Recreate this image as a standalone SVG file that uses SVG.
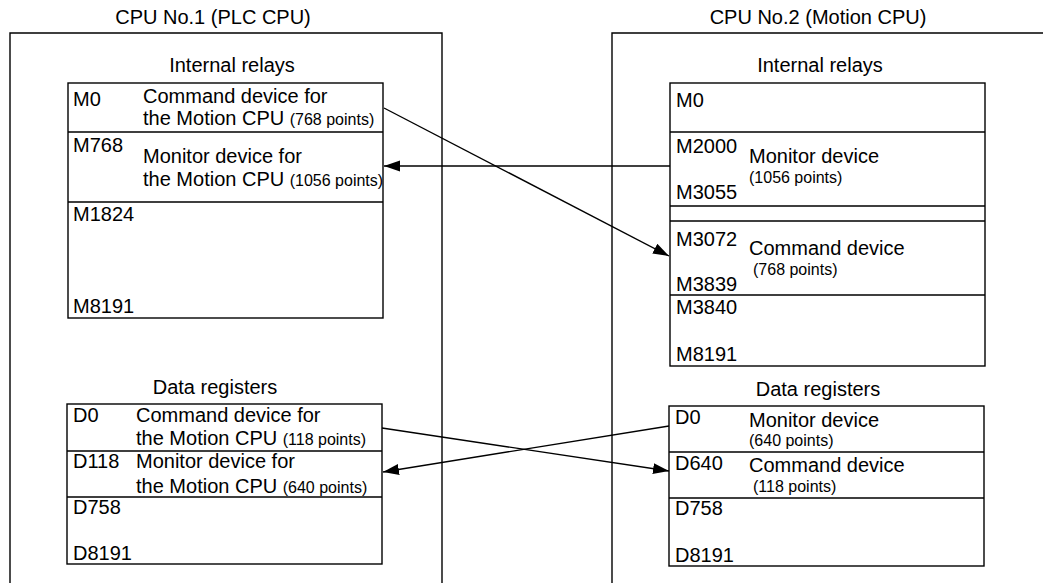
<svg xmlns="http://www.w3.org/2000/svg" width="1043" height="583" viewBox="0 0 1043 583">
<style>
text{font-family:"Liberation Sans",Arial,sans-serif;fill:#000}
.t{font-size:20px}
.s{font-size:16px}
.c{text-anchor:middle}
.b{fill:#fff;stroke:#000;stroke-width:1.4}
.l{stroke:#000;stroke-width:1.4;fill:none}
.a{stroke:#000;stroke-width:1.4;fill:none;marker-end:url(#ah)}
</style>
<defs>
<marker id="ah" markerWidth="18" markerHeight="12" refX="16" refY="5.5" orient="auto" markerUnits="userSpaceOnUse">
<path d="M0,0 L16,5.5 L0,11 Z" fill="#000"/>
</marker>
</defs>
<rect width="1043" height="583" fill="#fff"/>

<g id="cpu1">
<text class="t c" x="213" y="24">CPU No.1 (PLC CPU)</text>
<path class="l" d="M10,590 V33 H442 V590"/>
</g>
<g id="cpu2">
<text class="t c" x="818" y="24">CPU No.2 (Motion CPU)</text>
<path class="l" d="M612,590 V33 H1050"/>
</g>

<g id="cpu1-relays">
<text class="t c" x="232" y="72">Internal relays</text>
<rect class="b" x="68" y="83" width="315" height="235"/>
<path class="l" d="M68,132 H383 M68,202 H383"/>
<text class="t" x="73" y="106">M0</text>
<text class="t" x="143" y="103">Command device for</text>
<text class="t" x="143" y="125">the Motion CPU <tspan class="s">(768 points)</tspan></text>
<text class="t" x="73" y="152">M768</text>
<text class="t" x="143" y="163">Monitor device for</text>
<text class="t" x="143" y="186">the Motion CPU <tspan class="s">(1056 points)</tspan></text>
<text class="t" x="73" y="221">M1824</text>
<text class="t" x="73" y="313">M8191</text>
</g>

<g id="cpu2-relays">
<text class="t c" x="820" y="72">Internal relays</text>
<rect class="b" x="670" y="83" width="315" height="283"/>
<path class="l" d="M670,132 H985 M670,206 H985 M670,221 H985 M670,295 H985"/>
<text class="t" x="676" y="107">M0</text>
<text class="t" x="676" y="153">M2000</text>
<text class="t" x="749" y="163">Monitor device</text>
<text class="s" x="749" y="183">(1056 points)</text>
<text class="t" x="676" y="199">M3055</text>
<text class="t" x="676" y="246">M3072</text>
<text class="t" x="749" y="255">Command device</text>
<text class="s" x="753" y="275">(768 points)</text>
<text class="t" x="676" y="291">M3839</text>
<text class="t" x="676" y="314">M3840</text>
<text class="t" x="676" y="361">M8191</text>
</g>

<g id="cpu1-data">
<text class="t c" x="215" y="394">Data registers</text>
<rect class="b" x="67" y="404" width="315" height="160"/>
<path class="l" d="M67,451 H382 M67,497 H382"/>
<text class="t" x="73" y="422">D0</text>
<text class="t" x="136" y="422">Command device for</text>
<text class="t" x="136" y="445">the Motion CPU <tspan class="s">(118 points)</tspan></text>
<text class="t" x="73" y="468">D118</text>
<text class="t" x="136" y="468">Monitor device for</text>
<text class="t" x="136" y="493">the Motion CPU <tspan class="s">(640 points)</tspan></text>
<text class="t" x="73" y="514">D758</text>
<text class="t" x="73" y="560">D8191</text>
</g>

<g id="cpu2-data">
<text class="t c" x="818" y="396">Data registers</text>
<rect class="b" x="669" y="406" width="315" height="160"/>
<path class="l" d="M669,452 H984 M669,498 H984"/>
<text class="t" x="675" y="424">D0</text>
<text class="t" x="749" y="427">Monitor device</text>
<text class="s" x="749" y="446">(640 points)</text>
<text class="t" x="675" y="470">D640</text>
<text class="t" x="749" y="472">Command device</text>
<text class="s" x="753" y="492">(118 points)</text>
<text class="t" x="675" y="515">D758</text>
<text class="t" x="675" y="562">D8191</text>
</g>

<g id="connectors">
<line class="a" x1="384" y1="108" x2="669" y2="256"/>
<line class="a" x1="670" y1="166" x2="384" y2="166"/>
<line class="a" x1="382" y1="428" x2="669" y2="471"/>
<line class="a" x1="669" y1="426" x2="383" y2="472"/>
</g>
</svg>
